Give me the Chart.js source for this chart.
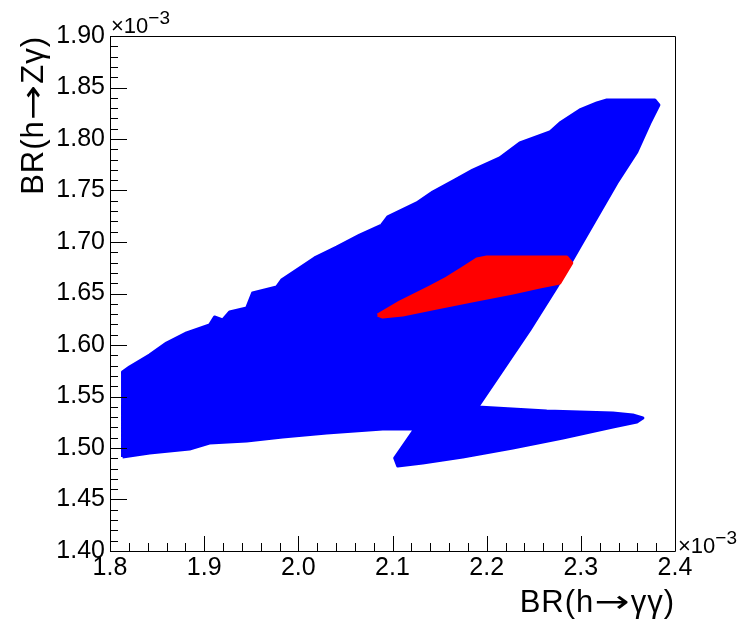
<!DOCTYPE html>
<html>
<head>
<meta charset="utf-8">
<script src="https://cdn.jsdelivr.net/npm/chart.js@4.4.1/dist/chart.umd.min.js"></script>
<style>
  html, body { margin: 0; padding: 0; background: #fff; }
</style>
</head>
<body>
<canvas id="chart" width="749" height="621"></canvas>
<script>
// BR values in units of 1e-3 (outline of each scanned region)
const scanX = [1.8133, 1.8133, 1.8207, 1.8420, 1.8600, 1.8813, 1.9057, 1.9110, 1.9196, 1.9270,
  1.9451, 1.9514, 1.9769, 1.9822, 2.0014, 2.0173, 2.0407, 2.0651, 2.0885, 2.0949,
  2.1257, 2.1427, 2.1661, 2.1852, 2.2139, 2.2352, 2.2671, 2.2777, 2.2989, 2.3170,
  2.3276, 2.3786, 2.3829, 2.3733, 2.3595, 2.3382, 2.2989, 2.2745, 2.2458, 2.2171,
  2.1905, 2.2638, 2.3340, 2.3552, 2.3659, 2.3595, 2.3340, 2.2809, 2.2277, 2.1746,
  2.1321, 2.1055, 2.1023, 2.1236, 2.0896, 2.0301, 1.9833, 1.9451, 1.9057, 1.8845,
  1.8420];
const scanY = [1.4913, 1.5738, 1.5786, 1.5903, 1.6019, 1.6117, 1.6194, 1.6272, 1.6243, 1.6320,
  1.6359, 1.6505, 1.6563, 1.6631, 1.6748, 1.6845, 1.6951, 1.7068, 1.7165, 1.7243,
  1.7379, 1.7485, 1.7602, 1.7699, 1.7816, 1.7961, 1.8068, 1.8155, 1.8282, 1.8350,
  1.8379, 1.8379, 1.8330, 1.8155, 1.7874, 1.7573, 1.6951, 1.6563, 1.6146, 1.5757,
  1.5398, 1.5359, 1.5340, 1.5320, 1.5291, 1.5252, 1.5204, 1.5097, 1.5000, 1.4913,
  1.4854, 1.4825, 1.4903, 1.5184, 1.5184, 1.5146, 1.5107, 1.5068, 1.5049, 1.4990,
  1.4951];

const allowedX = [2.0842, 2.1076, 2.1395, 2.1576, 2.1746, 2.1895, 2.2001, 2.2851, 2.2904, 2.2777,
  2.2564, 2.2277, 2.1895, 2.1470, 2.1108, 2.0896];
const allowedY = [1.6291, 1.6417, 1.6563, 1.6650, 1.6748, 1.6835, 1.6854, 1.6854, 1.6796, 1.6602,
  1.6563, 1.6505, 1.6437, 1.6359, 1.6291, 1.6272];

const xTicks = [1.8, 1.9, 2.0, 2.1, 2.2, 2.3, 2.4];
const yTicks = [1.40, 1.45, 1.50, 1.55, 1.60, 1.65, 1.70, 1.75, 1.80, 1.85, 1.90];

const FONT = '"Liberation Sans", Arial, Helvetica, sans-serif';
const ARROW_FONT = '"DejaVu Sans", sans-serif';

// closed outline for a filled polygon
function outline(xs, ys) {
  const pts = xs.map((x, i) => ({ x: x, y: ys[i] }));
  pts.push({ x: xs[0], y: ys[0] });
  return pts;
}

// text made of runs with their own font and horizontal stretch, right aligned at x
function drawRuns(ctx, runs, x, y) {
  ctx.letterSpacing = '1px';
  const widths = runs.map(r => { ctx.font = r.font; return ctx.measureText(r.t).width * (r.sx || 1); });
  let cx = x - widths.reduce((s, w) => s + w, 0);
  runs.forEach((r, i) => {
    ctx.font = r.font;
    ctx.save();
    ctx.translate(cx, y);
    ctx.scale(r.sx || 1, 1);
    ctx.textAlign = 'left';
    ctx.fillText(r.t, 0, 0);
    ctx.restore();
    cx += widths[i];
  });
  ctx.letterSpacing = '0px';
}

// ROOT-like frame: box, inward ticks, axis titles and exponent labels
const rootFrame = {
  id: 'rootFrame',
  afterDraw(chart) {
    const { ctx, chartArea: a, scales: { x, y } } = chart;
    ctx.save();
    ctx.strokeStyle = '#000';
    ctx.lineWidth = 1;
    ctx.beginPath();
    ctx.rect(a.left + 0.5, a.top + 0.5, a.right - a.left, a.bottom - a.top);
    for (let i = 0; i <= 30; i++) {
      const px = Math.round(x.getPixelForValue(1.8 + i * 0.02)) + 0.5;
      const len = i % 5 === 0 ? 15 : 8;
      ctx.moveTo(px, a.bottom);
      ctx.lineTo(px, a.bottom - len);
    }
    for (let i = 0; i <= 50; i++) {
      const py = Math.round(y.getPixelForValue(1.4 + i * 0.01)) + 0.5;
      const len = i % 5 === 0 ? 17 : 8;
      ctx.moveTo(a.left, py);
      ctx.lineTo(a.left + len, py);
    }
    ctx.stroke();

    ctx.fillStyle = '#000';
    ctx.textBaseline = 'alphabetic';
    const tf = '31px ' + FONT;
    const af = '31px ' + ARROW_FONT;

    // x title
    drawRuns(ctx, [
      { t: 'BR(h', font: tf },
      { t: '\u2192', font: af, sx: 1.35 },
      { t: '\u03b3\u03b3)', font: tf }
    ], a.right, 612);

    // y title
    ctx.save();
    ctx.translate(43, a.top);
    ctx.rotate(-Math.PI / 2);
    drawRuns(ctx, [
      { t: 'BR(h', font: tf },
      { t: '\u2192', font: af, sx: 1.35 },
      { t: 'Z\u03b3)', font: tf }
    ], 0, 0);
    ctx.restore();

    // exponent labels
    ctx.textAlign = 'left';
    const exponent = (x0, base) => {
      ctx.font = '22px ' + FONT;
      ctx.fillText('\u00d710', x0, base);
      const w = ctx.measureText('\u00d710').width;
      ctx.font = '19px ' + FONT;
      ctx.fillText('\u22123', x0 + w, base - 9);
    };
    exponent(a.left + 1, 33);
    exponent(a.right + 3, 553);
    ctx.restore();
  }
};

new Chart(document.getElementById('chart'), {
  type: 'scatter',
  data: {
    datasets: [
      {
        label: 'allowed',
        data: outline(allowedX, allowedY),
        showLine: true,
        fill: 'shape',
        backgroundColor: '#ff0000',
        borderColor: '#ff0000',
        borderWidth: 3,
        borderJoinStyle: 'round',
        pointRadius: 0,
        tension: 0,
        order: 0
      },
      {
        label: 'scan',
        data: outline(scanX, scanY),
        showLine: true,
        fill: 'shape',
        backgroundColor: '#0000ff',
        borderColor: '#0000ff',
        borderWidth: 3,
        borderJoinStyle: 'round',
        pointRadius: 0,
        tension: 0,
        order: 1
      }
    ]
  },
  options: {
    responsive: false,
    animation: false,
    devicePixelRatio: 1,
    layout: { padding: { left: 0, right: 74, top: 36, bottom: 0 } },
    plugins: { legend: { display: false }, tooltip: { enabled: false } },
    scales: {
      x: {
        type: 'linear',
        min: 1.8,
        max: 2.4,
        afterFit: s => { s.height = 70; },
        afterBuildTicks: s => { s.ticks = xTicks.map(v => ({ value: v })); },
        grid: { display: false, drawTicks: false },
        border: { display: false },
        ticks: {
          padding: 2,
          color: '#000',
          maxRotation: 0,
          autoSkip: false,
          font: { family: FONT, size: 25 },
          callback: v => v.toFixed(1)
        }
      },
      y: {
        type: 'linear',
        min: 1.4,
        max: 1.9,
        afterFit: s => { s.width = 110; },
        afterBuildTicks: s => { s.ticks = yTicks.map(v => ({ value: v })); },
        grid: { display: false, drawTicks: false },
        border: { display: false },
        ticks: {
          padding: 5,
          color: '#000',
          autoSkip: false,
          font: { family: FONT, size: 25 },
          callback: v => v.toFixed(2)
        }
      }
    }
  },
  plugins: [rootFrame]
});
</script>
</body>
</html>
